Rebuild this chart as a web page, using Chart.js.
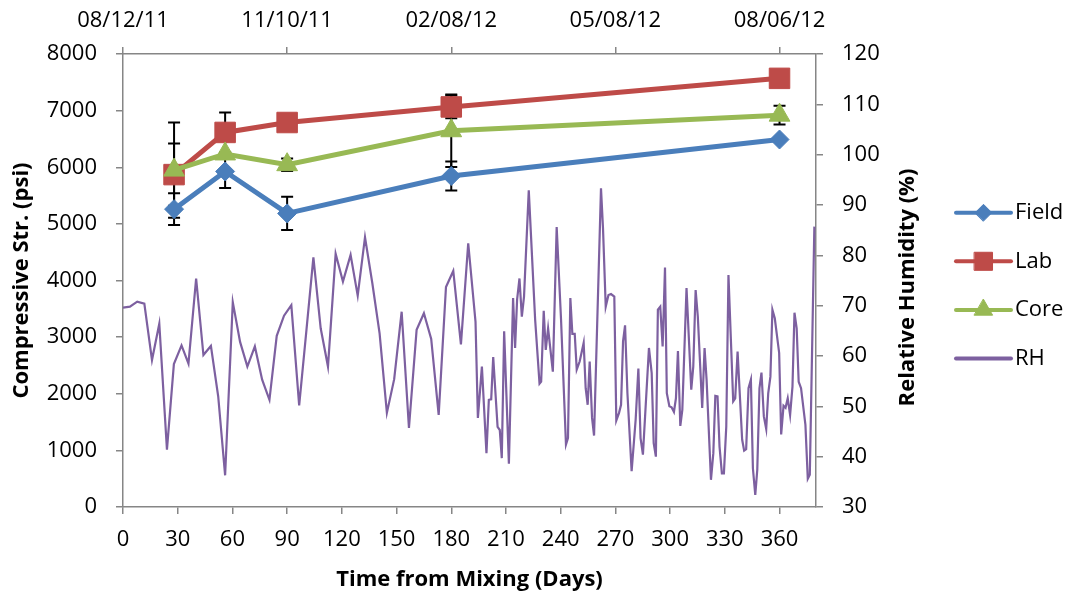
<!DOCTYPE html>
<html>
<head>
<meta charset="utf-8">
<script src="https://cdn.jsdelivr.net/npm/chart.js@4.4.1/dist/chart.umd.min.js"></script>
<style>
  html, body { margin: 0; padding: 0; background: #fff; }
</style>
</head>
<body>
<canvas id="chart" width="1073" height="602"></canvas>
<script>
// strength test ages (days) and mean values (psi)
const days = [28, 56, 90, 180, 360];
const fieldStr = [5260, 5925, 5185, 5845, 6490];
const labStr = [5870, 6615, 6790, 7065, 7570];
const coreStr = [5950, 6235, 6045, 6645, 6920];

// error bars (+/- psi), 0 = none
const fieldErr = [280, 290, 295, 255, 0];
const labErr = [550, 350, 0, 200, 0];
const coreErr = [840, 0, 110, 640, 165];

// relative humidity record
const rhDays = [0, 3.8, 7.8, 11.7, 15.9, 19.9, 24.1, 27.9, 32.1, 35.9, 40.1, 44.1, 48.2, 52.2, 56, 60.2, 64.2, 68.2, 72.3, 76.3,
  80.3, 84.3, 88.3, 92.3, 96.6, 100.6, 104.4, 108.4, 112.4, 116.6, 120.6, 124.8, 128.7, 132.7, 136.7, 140.7, 144.7, 148.7, 152.8, 156.8,
  161, 165, 169, 173.1, 177.1, 181.1, 185.3, 189.3, 193.3, 194.6, 196.8, 199.3, 200.6, 201.9, 203, 205.4, 206.6, 207.7, 209, 211.6,
  213.9, 215, 216.1, 217.4, 218.7, 219.9, 222.5, 226, 228.4, 229.3, 230.7, 231.8, 233.1, 235.7, 237.8, 240.2, 242.9, 244, 245.3, 246.4,
  247.7, 248.8, 250.4, 252.6, 253.7, 254.8, 255.9, 257.2, 258.3, 262.1, 263.2, 264.7, 266.2, 267.6, 269.4, 270.5, 272, 273.1, 274.2, 275.3,
  276.6, 278.9, 281.1, 282.6, 283.8, 285.1, 288.4, 289.9, 291, 292.2, 293.3, 294.6, 295.9, 297.2, 298.2, 299.6, 300.8, 302.1, 303.2, 304.3,
  305.6, 306.7, 309, 311.6, 312.7, 314, 315.2, 317.6, 318.9, 320, 322.4, 323.7, 324.8, 326, 327.1, 328.4, 329.5, 330.8, 332, 334.6,
  335.7, 337, 339.5, 340.6, 341.7, 343, 344.3, 345.4, 346.7, 347.8, 349, 350.1, 351.4, 352.7, 353.8, 355, 356.1, 357.4, 359.8, 360.9,
  362.2, 363.3, 364.5, 365.8, 367.1, 368.2, 369.4, 370.5, 371.8, 374.2, 375.5, 376.6, 379.1];
const rhValues = [69.6, 69.8, 70.8, 70.4, 59.2, 66.4, 41.4, 58.4, 62.1, 58.5, 75.4, 60.2, 62.0, 52.0, 36.3, 70.7, 62.8, 57.9, 61.9, 55.3,
  51.3, 64.0, 68.0, 70.1, 50.2, 65.2, 79.6, 65.5, 57.9, 80.3, 74.8, 80.1, 72.0, 83.6, 74.5, 64.5, 48.7, 55.4, 68.8, 45.7,
  65.2, 68.5, 63.4, 48.3, 73.7, 76.9, 62.3, 82.4, 66.8, 47.7, 57.9, 40.7, 51.3, 51.4, 59.8, 45.9, 45.3, 39.7, 64.9, 38.6,
  71.5, 61.6, 71.2, 75.4, 67.8, 71.8, 92.9, 67.2, 54.5, 54.9, 69.0, 61.2, 65.5, 56.9, 85.6, 67.2, 42.4, 43.7, 71.5, 64.4,
  64.4, 57.3, 58.9, 62.6, 53.6, 50.3, 58.9, 47.7, 44.2, 93.3, 85.4, 69.8, 72.1, 72.3, 71.8, 47.2, 48.7, 50.3, 62.9, 66.1,
  52.6, 37.1, 47.3, 57.5, 43.7, 40.4, 61.6, 56.6, 42.7, 40.0, 69.2, 69.8, 61.9, 77.6, 52.6, 50.0, 49.8, 48.9, 51.6, 61.0,
  46.1, 49.3, 73.5, 53.3, 57.9, 73.1, 67.8, 49.7, 61.6, 55.3, 35.4, 40.7, 52.1, 52.0, 42.0, 36.7, 36.7, 46.0, 76.1, 51.0,
  51.6, 60.9, 43.4, 41.2, 41.5, 53.6, 55.3, 37.7, 32.4, 37.4, 53.6, 56.7, 48.0, 45.5, 52.6, 55.9, 69.2, 67.5, 60.6, 44.4,
  50.1, 49.7, 51.6, 48.3, 53.9, 68.6, 65.5, 54.9, 53.6, 46.3, 35.6, 36.4, 85.7];

// secondary (date) axis labels, one every 90 days
const topTickLabels = ['08/12/11', '11/10/11', '02/08/12', '05/08/12', '08/06/12'];

const axisGrey = '#868686';
const fontFamily = "'Open Sans', 'Lato', sans-serif";
Chart.defaults.font.family = fontFamily;
Chart.defaults.color = '#000';

const toPoints = (xs, ys) => xs.map((d, i) => ({ x: d, y: ys[i] }));

const strengthSet = (label, values, color, style, radius, order) => ({
  label,
  data: toPoints(days, values),
  yAxisID: 'y',
  borderColor: color,
  backgroundColor: color,
  borderWidth: 5,
  pointStyle: style,
  pointRadius: radius,
  pointBorderWidth: 1,
  pointBackgroundColor: color,
  pointBorderColor: color,
  order
});

const datasets = [
  strengthSet('Field', fieldStr, '#4A7EBB', 'rectRot', 9.5, 0),
  strengthSet('Lab', labStr, '#BE4B48', 'rect', 14.5, 2),
  strengthSet('Core', coreStr, '#98B954', 'triangle', 12, 1),
  {
    label: 'RH',
    data: toPoints(rhDays, rhValues),
    yAxisID: 'yRH',
    borderColor: '#7D60A0',
    backgroundColor: '#7D60A0',
    borderWidth: 2.2,
    pointRadius: 0,
    pointStyle: false,
    order: 4
  }
];

const errorSets = [
  [fieldStr, fieldErr],
  [labStr, labErr],
  [coreStr, coreErr]
];

const errorBars = {
  id: 'errorBars',
  beforeDatasetsDraw(chart) {
    const { ctx, scales } = chart;
    const x = scales.x, y = scales.y;
    ctx.save();
    ctx.strokeStyle = '#000';
    ctx.lineWidth = 2;
    errorSets.forEach(([vals, errs]) => {
      days.forEach((d, i) => {
        if (!errs[i]) return;
        const px = x.getPixelForValue(d);
        const hi = y.getPixelForValue(vals[i] + errs[i]);
        const lo = y.getPixelForValue(vals[i] - errs[i]);
        ctx.beginPath();
        ctx.moveTo(px, hi); ctx.lineTo(px, lo);
        ctx.moveTo(px - 6, hi); ctx.lineTo(px + 6, hi);
        ctx.moveTo(px - 6, lo); ctx.lineTo(px + 6, lo);
        ctx.stroke();
      });
    });
    ctx.restore();
  }
};

// right axis title (reads bottom to top) and the line+marker legend
const extras = {
  id: 'extras',
  afterDraw(chart) {
    const { ctx, chartArea } = chart;
    ctx.save();
    ctx.fillStyle = '#000';
    ctx.font = 'bold 22px ' + fontFamily;
    ctx.textAlign = 'center';
    ctx.textBaseline = 'middle';
    ctx.translate(chart.scales.yRH.right - 18, (chartArea.top + chartArea.bottom) / 2 + 7);
    ctx.rotate(-Math.PI / 2);
    ctx.fillText('Relative Humidity (%)', 0, 0);
    ctx.restore();

    const x0 = 956, x1 = 1011, yStart = 212.7, step = 48.6;
    chart.data.datasets.forEach((ds, i) => {
      const yy = yStart + i * step;
      ctx.save();
      ctx.strokeStyle = ds.borderColor;
      ctx.lineWidth = 4;
      ctx.lineCap = 'round';
      ctx.beginPath();
      ctx.moveTo(x0, yy); ctx.lineTo(x1, yy);
      ctx.stroke();
      if (ds.pointStyle) {
        ctx.fillStyle = ds.pointBackgroundColor;
        ctx.strokeStyle = ds.pointBorderColor;
        ctx.lineWidth = 1;
        Chart.helpers.drawPoint(ctx, { pointStyle: ds.pointStyle, radius: ds.pointRadius * 0.88, rotation: 0, borderWidth: 1 }, (x0 + x1) / 2, yy);
      }
      ctx.fillStyle = '#000';
      ctx.font = '22px ' + fontFamily;
      ctx.textAlign = 'left';
      ctx.textBaseline = 'middle';
      ctx.fillText(ds.label, x1 + 4, yy);
      ctx.restore();
    });
  }
};

const gridOpts = { drawOnChartArea: false, color: axisGrey, tickLength: 7, lineWidth: 1.5 };
const borderOpts = { color: axisGrey, width: 1.5 };
const tickFont = { size: 22 };
const titleFont = { size: 22, weight: 'bold' };

new Chart(document.getElementById('chart').getContext('2d'), {
  type: 'line',
  data: { datasets },
  options: {
    responsive: false,
    animation: false,
    layout: { padding: { left: 0, right: 147, top: 0, bottom: 0 } },
    plugins: { legend: { display: false }, tooltip: { enabled: false } },
    scales: {
      x: {
        type: 'linear', position: 'bottom', min: 0, max: 380,
        afterFit: s => { s.height = 95; },
        border: borderOpts, grid: gridOpts,
        ticks: { stepSize: 30, includeBounds: false, autoSkip: false, maxRotation: 0, padding: 13, font: tickFont },
        title: { display: true, text: 'Time from Mixing (Days)', font: titleFont, padding: { top: 0, bottom: 9 } }
      },
      xTop: {
        type: 'linear', position: 'top', min: 0, max: 380,
        afterFit: s => { s.height = 54; },
        border: borderOpts, grid: gridOpts,
        ticks: {
          stepSize: 90, includeBounds: false, autoSkip: false, maxRotation: 0, padding: 13, font: tickFont,
          callback: v => topTickLabels[Math.round(v / 90)]
        }
      },
      y: {
        type: 'linear', position: 'left', min: 0, max: 8000,
        afterFit: s => { s.width = 123; },
        border: borderOpts, grid: gridOpts,
        ticks: { stepSize: 1000, padding: 19, font: tickFont, callback: v => String(v) },
        title: { display: true, text: 'Compressive Str. (psi)', font: titleFont, padding: { top: 9, bottom: 0 } }
      },
      yRH: {
        type: 'linear', position: 'right', min: 30, max: 120,
        afterFit: s => { s.width = 110; },
        border: borderOpts, grid: gridOpts,
        ticks: { stepSize: 10, padding: 19, font: tickFont, callback: v => String(v) }
      }
    }
  },
  plugins: [errorBars, extras]
});
</script>
</body>
</html>
